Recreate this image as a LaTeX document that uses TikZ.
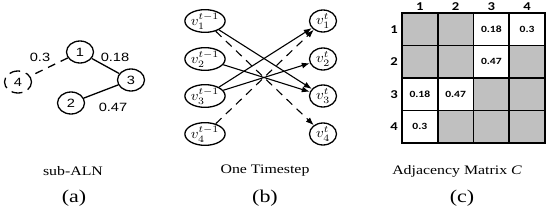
\documentclass[tikz,border=0pt]{standalone}
\usepackage{fontspec}
\usepackage{graphicx}
\setmainfont{Liberation Serif}
\newfontfamily\lsans{Liberation Sans}
\newfontfamily\carl{Carlito}
\usetikzlibrary{arrows.meta,shapes.geometric}
\newcommand{\sx}[1]{\scalebox{1.22}[1]{#1}}
\newcommand{\sxv}[1]{\scalebox{1.5}[1.4]{#1}}
\definecolor{graycell}{RGB}{192,192,192}
\tikzset{
  gnode/.style={ellipse,draw,line width=1.3pt,minimum width=27pt,minimum height=22pt,inner sep=0pt,font=\lsans\fontsize{12}{12}\selectfont},
  tnode/.style={ellipse,draw,line width=1.3pt,minimum width=27pt,minimum height=22pt,inner sep=0pt},
  wlab/.style={font=\lsans\fontsize{12}{12}\selectfont,inner sep=0pt},
  lnk/.style={line width=1.3pt},
  arr/.style={line width=1.1pt,-{Latex[length=8pt,width=6pt]}},
  captxt/.style={font=\fontsize{13}{13}\selectfont,inner sep=0pt},
  sublab/.style={font=\fontsize{18}{18}\selectfont,inner sep=0pt},
  cellbox/.style={draw,line width=1.8pt,minimum width=35.75pt,minimum height=32.5pt,inner sep=0pt,font=\carl\bfseries\fontsize{9.5}{9.5}\selectfont},
  gcell/.style={cellbox,fill=graycell},
  wcell/.style={cellbox,fill=white},
  hdr/.style={font=\carl\bfseries\fontsize{12}{12}\selectfont,inner sep=0pt}
}
\begin{document}
\begin{tikzpicture}[x=1pt,y=-1pt]
\useasboundingbox (0,0) rectangle (550,211);
% ---------- (a) ----------
\node[gnode] (a1) at (80,52) {\sx{1}};
\node[gnode] (a3) at (131,80) {\sx{3}};
\node[gnode] (a2) at (71,103) {\sx{2}};
\node[gnode,dash pattern=on 11pt off 6pt] (a4) at (18,82) {\sx{4}};
\draw[lnk] (a1) -- (a3);
\draw[lnk] (a3) -- (a2);
\draw[lnk,dash pattern=on 8pt off 6pt] (a1) -- (a4);
\node[wlab] (w13) at (115,57) {\sx{0.18}};
\node[wlab] (w14) at (40,57) {\sx{0.3}};
\node[wlab] (w23) at (113,107) {\sx{0.47}};
\node[captxt] (capa) at (73,171) {\sx{sub-ALN}};
\node[sublab] (la) at (74,198) {\sx{(a)}};
% ---------- (b) ----------
\node[tnode] (l1) at (205,21) {\sxv{$v_1^{t-1}$}};
\node[tnode] (l2) at (205,59) {\sxv{$v_2^{t-1}$}};
\node[tnode] (l3) at (205,96) {\sxv{$v_3^{t-1}$}};
\node[tnode] (l4) at (205,134) {\sxv{$v_4^{t-1}$}};
\node[tnode] (r1) at (323,21) {\sxv{$v_1^{t}$}};
\node[tnode] (r2) at (323,59) {\sxv{$v_2^{t}$}};
\node[tnode] (r3) at (323,96) {\sxv{$v_3^{t}$}};
\node[tnode] (r4) at (323,134) {\sxv{$v_4^{t}$}};
\draw[arr] (l1) -- (r3);
\draw[arr] (l2) -- (r3);
\draw[arr] (l3) -- (r1);
\draw[arr] (l3) -- (r2);
\draw[arr,dash pattern=on 8pt off 6pt] (l1) -- (r4);
\draw[arr,dash pattern=on 8pt off 6pt] (l4) -- (r1);
\node[captxt] (capb) at (265,171) {\sx{One Timestep}};
\node[sublab] (lb) at (265,198) {\sx{(b)}};
% ---------- (c) ----------
\node[gcell] (c11) at (419.875,29.25) {};
\node[gcell] (c12) at (455.625,29.25) {};
\node[wcell] (c13) at (491.375,29.25) {\sx{0.18}};
\node[wcell] (c14) at (527.125,29.25) {\sx{0.3}};
\node[gcell] (c21) at (419.875,61.75) {};
\node[gcell] (c22) at (455.625,61.75) {};
\node[wcell] (c23) at (491.375,61.75) {\sx{0.47}};
\node[gcell] (c24) at (527.125,61.75) {};
\node[wcell] (c31) at (419.875,94.25) {\sx{0.18}};
\node[wcell] (c32) at (455.625,94.25) {\sx{0.47}};
\node[gcell] (c33) at (491.375,94.25) {};
\node[gcell] (c34) at (527.125,94.25) {};
\node[wcell] (c41) at (419.875,126.75) {\sx{0.3}};
\node[gcell] (c42) at (455.625,126.75) {};
\node[gcell] (c43) at (491.375,126.75) {};
\node[gcell] (c44) at (527.125,126.75) {};
\node[hdr] (h1) at (419.875,7) {\sx{1}};
\node[hdr] (h2) at (455.625,7) {\sx{2}};
\node[hdr] (h3) at (491.375,7) {\sx{3}};
\node[hdr] (h4) at (527.125,7) {\sx{4}};
\node[hdr] (v1) at (394,29.25) {\sx{1}};
\node[hdr] (v2) at (394,61.75) {\sx{2}};
\node[hdr] (v3) at (394,94.25) {\sx{3}};
\node[hdr] (v4) at (394,126.75) {\sx{4}};
\node[captxt] (capc) at (457,171) {\sx{Adjacency Matrix {\itshape C}}};
\node[sublab] (lc) at (462,198) {\sx{(c)}};
\end{tikzpicture}
\end{document}
